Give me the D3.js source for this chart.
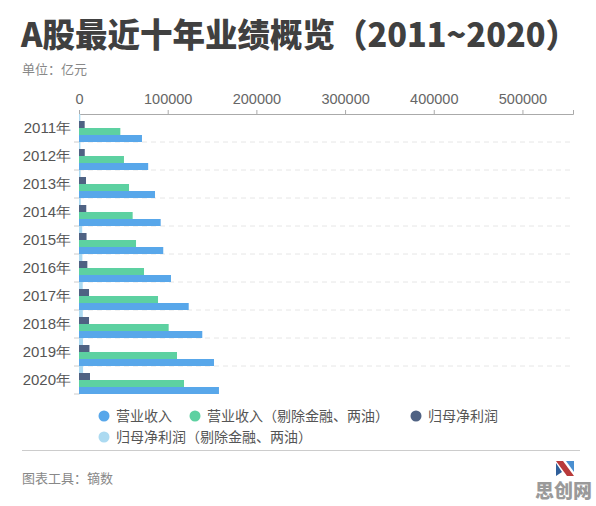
<!DOCTYPE html>
<html lang="zh">
<head>
<meta charset="UTF-8" />
<title>A股最近十年业绩概览</title>
<script src="https://d3js.org/d3.v7.min.js"></script>
<style>
  html, body { margin: 0; padding: 0; background: #fff; }
  svg { display: block; font-family: "Noto Sans CJK SC", "Noto Sans", sans-serif; }
</style>
</head>
<body>
<svg width="596" height="506"></svg>
<script>
// Data (亿元)
const years = ["2011年", "2012年", "2013年", "2014年", "2015年", "2016年", "2017年", "2018年", "2019年", "2020年"];
const revenue = [71000, 78000, 85700, 92100, 95000, 103700, 123700, 139000, 152200, 157800];
const revenueEx = [46600, 50700, 56400, 60500, 64300, 73300, 89100, 101100, 110500, 118400];
const profit = [6400, 6500, 7900, 8200, 8500, 9400, 11300, 11300, 11800, 12400];
const profitEx = [1500, 1600, 1800, 2000, 3600, 3800, 4200, 4300, 4500, 4600];
const xTicks = [0, 100000, 200000, 300000, 400000, 500000];

const seriesNames = ["营业收入", "营业收入（剔除金融、两油）", "归母净利润", "归母净利润（剔除金融、两油）"];
const seriesValues = [revenue, revenueEx, profit, profitEx];
const colors = ["#58a7ea", "#5dd1a1", "#4f6283", "#acdaf1"];

const svg = d3.select("svg");

// Title
svg.append("text").attr("x", 21).attr("y", 47)
  .attr("font-size", 33).attr("font-weight", 900).attr("fill", "#404040")
  .attr("textLength", 557).attr("lengthAdjust", "spacingAndGlyphs")
  .text("A股最近十年业绩概览（2011~2020）");
svg.append("text").attr("x", 22).attr("y", 74)
  .attr("font-size", 13).attr("fill", "#888")
  .text("单位：亿元");

// Scales
const x = d3.scaleLinear().domain([0, 557000]).range([79, 573]);
const y = d3.scaleBand().domain(years).range([114, 394]);
// bars from top to bottom inside a band: last series on top
const sub = d3.scaleBand().domain([3, 2, 1, 0]).range([0, y.bandwidth()]).padding(0);

// dashed grid lines
svg.append("g").selectAll("line").data(years.slice(0, -1)).join("line")
  .attr("x1", x(0)).attr("x2", x.range()[1])
  .attr("y1", d => y(d) + y.bandwidth()).attr("y2", d => y(d) + y.bandwidth())
  .attr("stroke", "#e6e6e6").attr("stroke-dasharray", "5,4");

// Top x axis
const xAxis = svg.append("g").attr("transform", "translate(0,114)")
  .call(d3.axisTop(x).tickValues(xTicks).tickSize(4).tickPadding(6).tickFormat(d3.format("d")));
xAxis.select(".domain").attr("stroke", "#aaa");
xAxis.selectAll(".tick line").attr("stroke", "#aaa");
xAxis.selectAll("text").attr("font-size", 14.5).attr("fill", "#666").attr("font-family", "inherit");

// Left y axis
const yAxis = svg.append("g").attr("transform", "translate(79,0)")
  .call(d3.axisLeft(y).tickSize(0).tickPadding(8));
yAxis.select(".domain").attr("stroke", "#cfe3ea");
yAxis.selectAll("text").attr("font-size", 15).attr("fill", "#555").attr("font-family", "inherit");
svg.append("g").selectAll("line").data(years).join("line")
  .attr("x1", 74).attr("x2", 79)
  .attr("y1", d => y(d) + y.bandwidth()).attr("y2", d => y(d) + y.bandwidth())
  .attr("stroke", "#ccc");

// Bars
seriesValues.forEach((vals, si) => {
  svg.append("g").selectAll("rect").data(vals).join("rect")
    .attr("x", x(0))
    .attr("y", (d, i) => y(years[i]) + sub(si))
    .attr("width", d => x(d) - x(0))
    .attr("height", sub.bandwidth())
    .attr("fill", colors[si]);
});

// Legend
const legendPos = [[104, 416], [195, 416], [416, 416], [104, 437]];
const lg = svg.append("g").selectAll("g").data(seriesNames).join("g")
  .attr("transform", (d, i) => `translate(${legendPos[i][0]},${legendPos[i][1]})`);
lg.append("circle").attr("r", 5.5).attr("fill", (d, i) => colors[i]);
lg.append("text").attr("x", 12).attr("y", 5).attr("font-size", 14).attr("fill", "#555").text(d => d);

// Footer
svg.append("line").attr("x1", 22).attr("x2", 580).attr("y1", 450.5).attr("y2", 450.5)
  .attr("stroke", "#ccc");
svg.append("text").attr("x", 22).attr("y", 483)
  .attr("font-size", 13).attr("fill", "#888").text("图表工具：镝数");

// Watermark
svg.append("path").attr("d", "M556,461 L563,461 L574,476 L567,476 Z").attr("fill", "#b83a3a");
svg.append("path").attr("d", "M566,461 L574,461 L574,472 Z").attr("fill", "#4a8fd0");
svg.append("path").attr("d", "M556,463 L562,472 L556,476 Z").attr("fill", "#2f5f9a");
svg.append("text").attr("x", 592).attr("y", 498).attr("text-anchor", "end")
  .attr("font-size", 19).attr("font-weight", 900).attr("fill", "#9a9a9a").text("思创网");
</script>
</body>
</html>
